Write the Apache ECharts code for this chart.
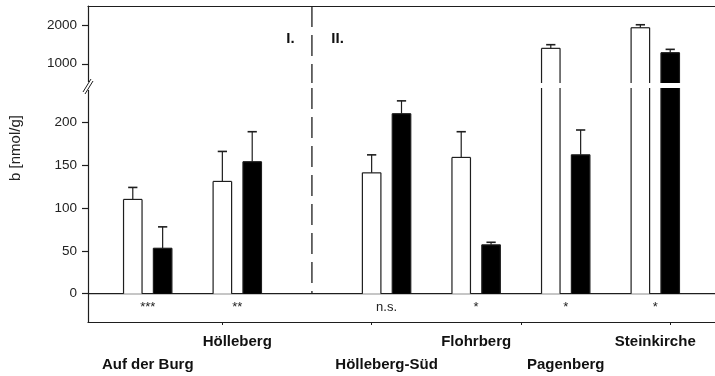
<!DOCTYPE html>
<html>
<head>
<meta charset="utf-8">
<script src="https://cdn.jsdelivr.net/npm/echarts@6/dist/echarts.min.js"></script>
<style>
html,body{margin:0;padding:0;background:#fff;}
#chart{width:715px;height:376px;}
</style>
</head>
<body>
<div id="chart"></div>
<script>
// ---- data ----
const sites = ['Auf der Burg', 'Hölleberg', 'Hölleberg-Süd', 'Flohrberg', 'Pagenberg', 'Steinkirche'];
const whiteMean = [110, 131, 141, 159, 1400, 1935];
const whiteErr  = [14, 35, 21, 30, 95, 78];
const blackMean = [53, 154, 210, 57, 162, 1287];
const blackErr  = [25, 35, 15, 3, 29, 87];
const significance = ['***', '**', 'n.s.', '*', '*', '*'];
const lowTicks = [0, 50, 100, 150, 200];
const highTicks = [1000, 2000];
const sectionLabels = ['I.', 'II.'];
const yTitle = 'b [nmol/g]';

// ---- layout (slot units on the x axis) ----
const groupPos = [2, 5, 10, 13, 16, 19];
const bottomTicks = [4.5, 9.5, 14.5, 19.5];
const dividerX = 7.5;
const X_MAX = 21;
const BAR_W = 0.62;
const CAP_W = 0.31;
const LINE = '#1e1e1e';
const FONT = '"Liberation Sans", Arial, sans-serif';

function barSeries(name, means, errs, side, fill, gi) {
  return {
    type: 'custom', name: name, coordinateSystem: 'cartesian2d',
    xAxisIndex: gi, yAxisIndex: gi, clip: false, z: 3,
    data: means.map((m, i) => [groupPos[i] + side * 0.5, m, errs[i]]),
    renderItem: function (params, api) {
      const x = api.value(0), v = api.value(1), e = api.value(2);
      const cs = params.coordSys;
      const w = api.size([BAR_W, 0])[0];
      const pTop = api.coord([x, v]);
      const pBase = api.coord([x, 0]);
      const yMin = cs.y, yMax = cs.y + cs.height;
      const y0 = Math.max(pTop[1], yMin), y1 = Math.min(pBase[1], yMax);
      if (y1 <= y0) return { type: 'group', children: [] };
      const xl = pTop[0] - w / 2, xr = pTop[0] + w / 2;
      const ls = { stroke: LINE, lineWidth: 1.2 };
      const ch = [];
      ch.push({ type: 'rect', shape: { x: xl, y: y0, width: w, height: y1 - y0 }, style: { fill: fill } });
      ch.push({ type: 'line', shape: { x1: xl, y1: y0, x2: xl, y2: y1 }, style: ls });
      ch.push({ type: 'line', shape: { x1: xr, y1: y0, x2: xr, y2: y1 }, style: ls });
      if (pTop[1] >= yMin) {
        ch.push({ type: 'line', shape: { x1: xl, y1: pTop[1], x2: xr, y2: pTop[1] }, style: ls });
        const pErr = api.coord([x, v + e]);
        const cw = api.size([CAP_W, 0])[0];
        ch.push({ type: 'line', shape: { x1: pTop[0], y1: pTop[1], x2: pErr[0], y2: pErr[1] }, style: { stroke: LINE, lineWidth: 1.2 } });
        ch.push({ type: 'line', shape: { x1: pErr[0] - cw / 2, y1: pErr[1], x2: pErr[0] + cw / 2, y2: pErr[1] }, style: { stroke: LINE, lineWidth: 1.6 } });
      }
      return { type: 'group', children: ch };
    }
  };
}

const chart = echarts.init(document.getElementById('chart'), null, { renderer: 'canvas' });

const axisLineStyle = { show: true, onZero: false, lineStyle: { color: LINE, width: 1.2 } };
const plainNumber = function (v) { return String(v); };

const option = {
  animation: false,
  backgroundColor: '#fff',
  textStyle: { fontFamily: FONT },
  grid: [
    { left: 88, top: 6, width: 631, height: 77 },
    { left: 88, top: 88, width: 631, height: 234 }
  ],
  xAxis: [
    { gridIndex: 0, type: 'value', min: 0, max: X_MAX, position: 'top',
      axisLine: axisLineStyle, axisTick: { show: false }, axisLabel: { show: false }, splitLine: { show: false } },
    { gridIndex: 1, type: 'value', min: 0, max: X_MAX, position: 'bottom',
      axisLine: axisLineStyle,
      axisTick: { show: true, customValues: bottomTicks, length: 3, lineStyle: { color: LINE, width: 1 } },
      axisLabel: {
        show: true, customValues: groupPos, margin: 8,
        fontFamily: FONT, fontSize: 15, fontWeight: 'bold', color: '#111', lineHeight: 23,
        formatter: function (val) {
          const i = groupPos.indexOf(val);
          if (i < 0) return '';
          return (i % 2 === 0 ? '\n' : '') + sites[i];
        }
      },
      splitLine: { show: false } }
  ],
  yAxis: [
    { gridIndex: 0, type: 'value', min: 500, max: 2500,
      axisLine: axisLineStyle,
      axisTick: { show: true, customValues: highTicks, length: 6, lineStyle: { color: LINE, width: 1.2 } },
      axisLabel: { show: true, customValues: highTicks, margin: 11, fontFamily: FONT, fontSize: 13.5, color: '#222', formatter: plainNumber },
      splitLine: { show: false } },
    { gridIndex: 1, type: 'value', min: -33, max: 240,
      axisLine: axisLineStyle,
      axisTick: { show: true, customValues: lowTicks, length: 6, lineStyle: { color: LINE, width: 1.2 } },
      axisLabel: { show: true, customValues: lowTicks, margin: 11, fontFamily: FONT, fontSize: 13.5, color: '#222', formatter: plainNumber },
      splitLine: { show: false },
      name: yTitle, nameLocation: 'middle', nameGap: 65,
      nameTextStyle: { fontFamily: FONT, fontSize: 15, color: '#222', padding: [0, 0, 0, 114] } }
  ],
  series: [
    barSeries('white-high', whiteMean, whiteErr, -1, '#ffffff', 0),
    barSeries('black-high', blackMean, blackErr, 1, '#000000', 0),
    barSeries('white-low', whiteMean, whiteErr, -1, '#ffffff', 1),
    barSeries('black-low', blackMean, blackErr, 1, '#000000', 1),
    {
      type: 'custom', name: 'significance', coordinateSystem: 'cartesian2d',
      xAxisIndex: 1, yAxisIndex: 1, clip: false, z: 4,
      data: groupPos.map((p, i) => [p, -16.5, i]),
      renderItem: function (params, api) {
        const p = api.coord([api.value(0), api.value(1)]);
        return { type: 'text', x: p[0], y: p[1],
          style: { text: significance[api.value(2)], fontFamily: FONT, fontSize: 13, fill: '#222', align: 'center', verticalAlign: 'middle' } };
      }
    },
    {
      type: 'custom', name: 'deco-low', coordinateSystem: 'cartesian2d',
      xAxisIndex: 1, yAxisIndex: 1, clip: false, z: 2,
      data: [[0, 0]],
      renderItem: function (params, api) {
        const a = api.coord([0, 0]), b = api.coord([X_MAX, 0]);
        const d0 = api.coord([dividerX, 0]), d1 = api.coord([dividerX, 240]);
        return { type: 'group', children: [
          { type: 'line', shape: { x1: a[0], y1: a[1], x2: b[0], y2: b[1] }, style: { stroke: LINE, lineWidth: 1.3 } },
          { type: 'line', shape: { x1: d1[0], y1: d1[1], x2: d0[0], y2: d0[1] }, style: { stroke: LINE, lineWidth: 1.3, lineDash: [21, 8] } }
        ] };
      }
    },
    {
      type: 'custom', name: 'deco-high', coordinateSystem: 'cartesian2d',
      xAxisIndex: 0, yAxisIndex: 0, clip: false, z: 2,
      data: [[0, 500]],
      renderItem: function (params, api) {
        const d0 = api.coord([dividerX, 2500]), d1 = api.coord([dividerX, 500]);
        const tI = api.coord([dividerX - 0.58, 1650]);
        const tII = api.coord([dividerX + 0.65, 1650]);
        const br = api.coord([0, 500]);
        return { type: 'group', children: [
          { type: 'line', shape: { x1: d0[0], y1: d0[1], x2: d1[0], y2: d1[1] }, style: { stroke: LINE, lineWidth: 1.3, lineDash: [21, 8] } },
          { type: 'text', x: tI[0], y: tI[1], style: { text: sectionLabels[0], fontFamily: FONT, fontSize: 15, fontWeight: 'bold', fill: '#111', align: 'right', verticalAlign: 'middle' } },
          { type: 'text', x: tII[0], y: tII[1], style: { text: sectionLabels[1], fontFamily: FONT, fontSize: 15, fontWeight: 'bold', fill: '#111', align: 'left', verticalAlign: 'middle' } },
          { type: 'rect', shape: { x: br[0] - 2, y: br[1] - 1, width: 4, height: 8 }, style: { fill: '#fff' } },
          { type: 'line', shape: { x1: br[0] - 5, y1: br[1] + 9, x2: br[0] + 3, y2: br[1] - 4 }, style: { stroke: LINE, lineWidth: 1 } },
          { type: 'line', shape: { x1: br[0] - 3, y1: br[1] + 11, x2: br[0] + 5, y2: br[1] - 2 }, style: { stroke: LINE, lineWidth: 1 } }
        ] };
      }
    }
  ]
};
chart.setOption(option);
</script>
</body>
</html>
